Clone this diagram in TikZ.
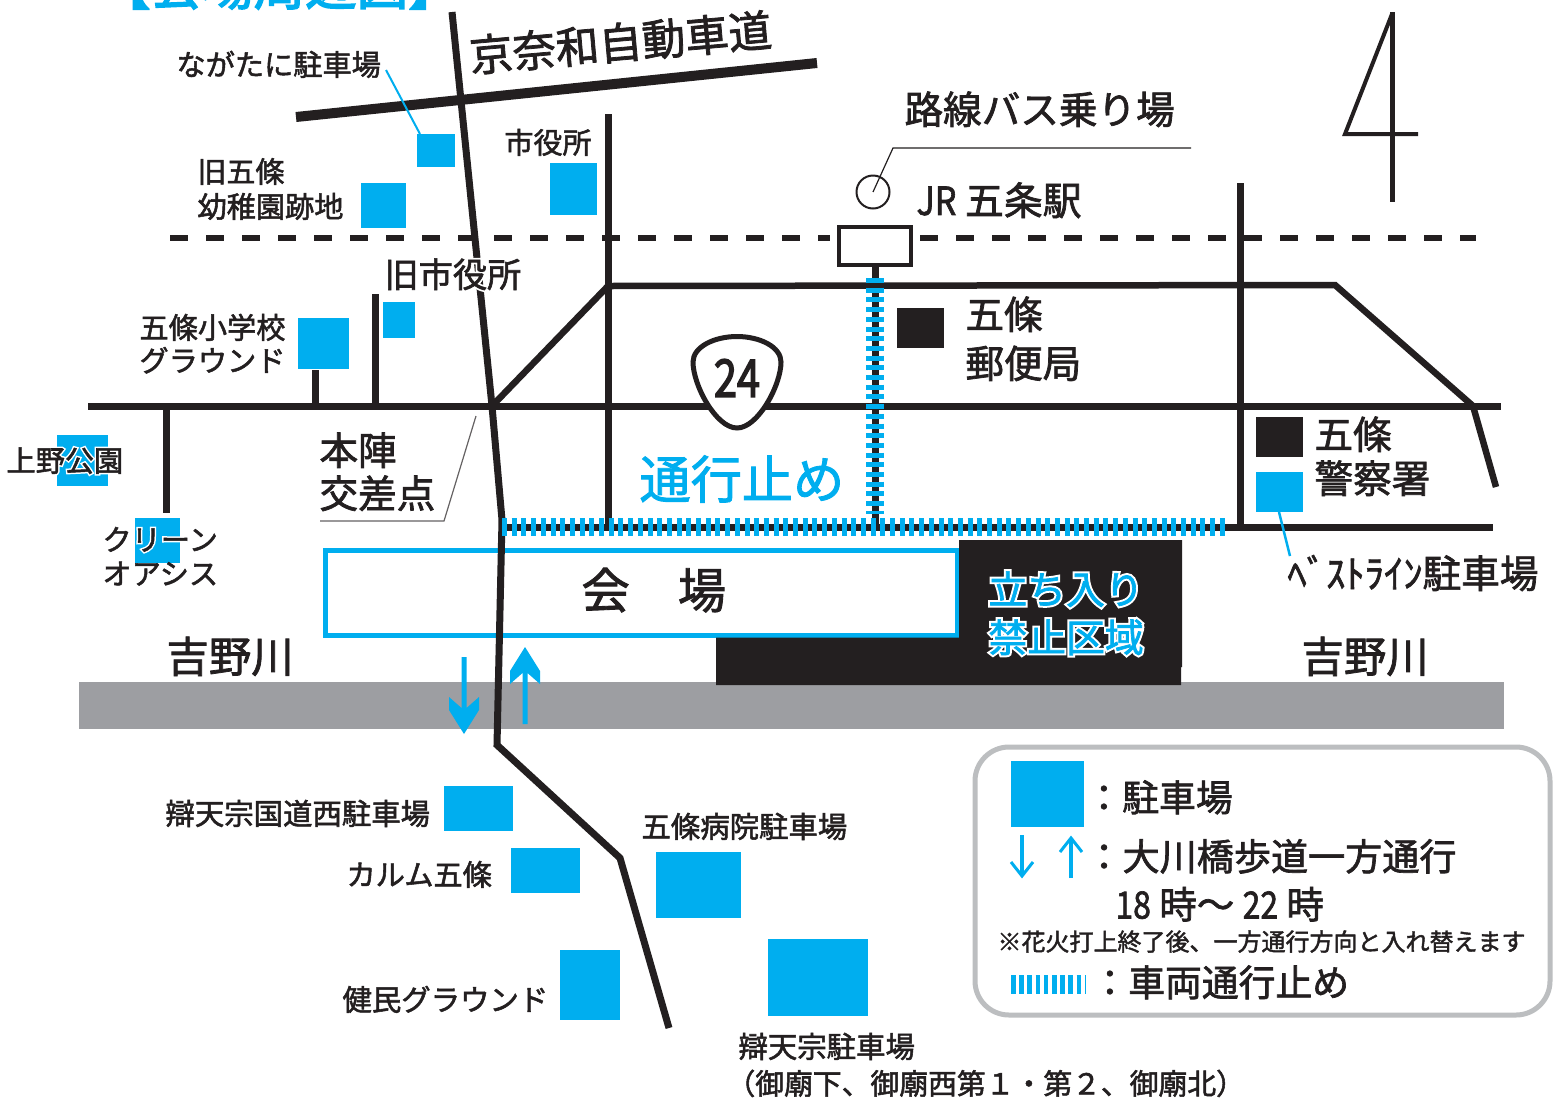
\documentclass[tikz,border=0pt]{standalone}
\usepackage{graphicx}
\usepackage{fontspec}
\newfontfamily\jp[FakeBold=1.8]{Noto Sans CJK JP}
\newfontfamily\jpb[FakeBold=3]{Noto Sans CJK JP}
\newfontfamily\jph[FakeBold=12]{Noto Sans CJK JP}
\definecolor{cblue}{HTML}{00AEEF}
\definecolor{cblack}{HTML}{231F20}
\definecolor{cgray}{HTML}{9D9EA2}
\definecolor{cbox}{HTML}{BCBEC0}
\tikzset{
  road/.style={draw=cblack,line width=7pt,line join=miter},
  parking/.style={fill=cblue},
  building/.style={fill=cblack},
  leader/.style={draw=cblue,line width=2pt},
  thinline/.style={draw=cblack,line width=1.2pt},
  stopline/.style={draw=cblue,line width=18pt,dash pattern=on 5pt off 4.7pt},
  txt/.style={inner sep=0pt,anchor=base west,text=cblack},
}
% name, x, y centre, size, text
\newcommand{\lbl}[5]{\node[txt] (#1) at ({#2-0.7},{#3+0.36*#4}) {\fontsize{#4}{#4}\selectfont\jp #5};}
% halo label: name, x, y centre, size, colour, text
\newcommand{\hlbl}[6]{\node[txt] (#1) at ({#2-0.7},{#3+0.36*#4}) {\fontsize{#4}{#4}\selectfont\rlap{\textcolor{white}{\jph #6}}\textcolor{#5}{\jp #6}};}
\newcommand{\cond}[2]{\scalebox{#1}[1]{#2}}
\begin{document}
\begin{tikzpicture}[x=1pt,y=-1pt]
\useasboundingbox (0,0) rectangle (1554,1101);
\fill[white] (0,0) rectangle (1554,1101);

% title, cut by the page edge
\node[txt,text=cblue] (title) at (99,5) {\fontsize{51.5}{51.5}\selectfont\jpb 【会場周辺図】};

% river
\fill[cgray] (79,682) rectangle (1503.5,729);
% venue
\draw[draw=cblue,line width=5pt,fill=white] (325,550) rectangle (957,635);
% no entry area
\fill[cblack] (959,540) -- (1182,540) -- (1182,667) -- (1181,667) -- (1181,685) -- (716,685) -- (716,637.5) -- (959,637.5) -- cycle;

% rail
\draw[cblack,line width=6.5pt,dash pattern=on 18pt off 18pt] (170,238) -- (830,238);
\draw[cblack,line width=6.5pt,dash pattern=on 18pt off 18pt] (920,238) -- (1476,238);

% roads
\draw[road] (88,406) -- (1501,406);
\draw[road] (608,114) -- (608,527);
\draw[road,line width=6.5pt] (492,406) -- (608,286) -- (1335,285) -- (1473,406) -- (1496,487);
\draw[road] (1240,183) -- (1240,527);
\draw[road] (502,527) -- (1493,527);
\draw[road] (875,266) -- (875,527);
\draw[road] (315,370) -- (315,406);
\draw[road] (375,294) -- (375,406);
\draw[road] (166,406) -- (166,513);
\draw[road,line width=10pt] (296,117) -- (817,63);
\draw[road] (452,12) -- (492,406) -- (502,520) -- (497,745) -- (620,858) -- (669,1028);

% road closures
\draw[stopline] (502,527) -- (1229,527);
\draw[stopline] (875,278) -- (875,514);

% station
\node[draw=cblack,line width=4pt,fill=white,minimum width=72pt,minimum height=38pt,inner sep=0pt] (station) at (874.5,245.5) {};
\node[circle,draw=cblack,line width=2pt,minimum size=33pt,inner sep=0pt] (busstop) at (873,192) {};
\coordinate (busbend) at (893,148);
\coordinate (busend) at (1191,148);
\draw[thinline] (busstop.center) -- (busbend) -- (busend);

% north mark
\draw[draw=cblack,line width=5pt] (1392,12) -- (1392,202);
\draw[draw=cblack,line width=4pt,line join=miter] (1392,14) -- (1345,134) -- (1418,134);

% route shield
\filldraw[draw=cblack,fill=white,line width=5pt] (737,336.5)
  .. controls (760,336.5) and (781,347) .. (781,362)
  .. controls (781,385) and (758,428) .. (737,428)
  .. controls (716,428) and (693,385) .. (693,362)
  .. controls (693,347) and (714,336.5) .. (737,336.5) -- cycle;
\node[inner sep=0pt,text=cblack] (r24) at (737,378) {\fontsize{52}{52}\selectfont\jpb\cond{.8}{24}};

% parking and buildings
\fill[parking] (417,134) rectangle (455,167);
\fill[parking] (361,183) rectangle (406,228);
\fill[parking] (550,163) rectangle (597,215);
\fill[parking] (383,302) rectangle (415,338);
\fill[parking] (298,318) rectangle (349,369);
\fill[parking] (57,435) rectangle (108,486);
\fill[parking] (135,518) rectangle (180,563);
\fill[parking] (1256,472) rectangle (1303,512);
\fill[parking] (444,786) rectangle (513,831);
\fill[parking] (511,848) rectangle (580,893);
\fill[parking] (656,852) rectangle (741,918);
\fill[parking] (560,950) rectangle (620,1020);
\fill[parking] (768,939) rectangle (868,1016);
\fill[building] (897,308) rectangle (944,348);
\fill[building] (1256,417) rectangle (1303,457);

% leaders
\coordinate (l1a) at (386,70); \coordinate (l1b) at (420,134);
\draw[leader] (l1a) -- (l1b);
\coordinate (l2a) at (1279,512); \coordinate (l2b) at (1290,556);
\draw[leader,line width=2.5pt] (l2a) -- (l2b);
\coordinate (l3a) at (320,521); \coordinate (l3b) at (444,521); \coordinate (l3c) at (476,416);
\draw[draw=cblack!70,line width=1.2pt] (l3a) -- (l3b) -- (l3c);

% bridge arrows
\fill[cblue] (461.5,657) -- (466.5,657) -- (466.5,708) -- (479,697) -- (479,710) -- (464,734) -- (449,710) -- (449,697) -- (461.5,708) -- cycle;
\fill[cblue] (522.5,724) -- (527.5,724) -- (527.5,673) -- (540,684) -- (540,671) -- (525,647) -- (510,671) -- (510,684) -- (522.5,673) -- cycle;

% labels
\node[inner sep=0pt,text=cblack,rotate=5] (xway) at (620.5,42.5) {\fontsize{43.3}{43}\selectfont\jp 京奈和自動車道};
\lbl{a1}{177}{65}{29.2}{ながたに駐車場}
\lbl{a2}{198}{172}{29}{旧五條}
\lbl{a3}{198}{207}{29.2}{幼稚園跡地}
\lbl{a4}{505}{143}{29}{市役所}
\lbl{a5}{905}{110}{38.6}{路線バス乗り場}
\lbl{a6}{917}{201}{38.8}{\cond{.88}{JR} 五条駅}
\hlbl{a7}{385}{275}{34.2}{cblack}{旧市役所}
\lbl{a8}{140}{328}{29.2}{五條小学校}
\lbl{a9}{140}{361}{29.2}{グラウンド}
\lbl{a10}{966}{315}{38.6}{五條}
\lbl{a11}{966}{364}{38.6}{郵便局}
\lbl{a12}{320}{451}{38.6}{本陣}
\lbl{a13}{320}{494}{38.6}{交差点}
\lbl{a14}{640}{480}{51.2}{\textcolor{cblue}{通行止め}}
\hlbl{a15}{7}{461}{29.2}{cblack}{上野公園}
\hlbl{a16}{103}{540}{29.2}{cblack}{クリーン}
\lbl{a17}{103}{574}{29.2}{オアシス}
\lbl{a18}{167}{657}{42.4}{吉野川}
\lbl{a19}{582}{591}{48.2}{会　場}
\hlbl{a20}{989}{590}{38.8}{cblue}{立ち入り}
\hlbl{a21}{989}{638}{38.8}{cblue}{禁止区域}
\lbl{a22}{1315}{435}{38.6}{五條}
\lbl{a23}{1315}{479}{38.6}{警察署}
\lbl{a24}{1288}{574}{38.6}{ﾍﾞｽﾄﾗｲﾝ駐車場}
\lbl{a25}{1302}{657}{42.4}{吉野川}
\lbl{a26}{166}{814}{29.4}{辯天宗国道西駐車場}
\lbl{a27}{347}{875}{29.2}{カルム五條}
\lbl{a28}{642}{827}{29.4}{五條病院駐車場}
\lbl{a29}{343}{1000}{29.4}{健民グラウンド}
\lbl{a30}{739}{1047}{29.4}{辯天宗駐車場}
\lbl{a31}{727}{1084}{28.8}{（御廟下、御廟西第１・第２、御廟北）}

% legend
\draw[draw=cbox,line width=5pt,fill=white,rounded corners=34pt] (975,747) rectangle (1550,1015);
\fill[parking] (1011,761) rectangle (1084,827);
\draw[draw=cblue,line width=3.2pt] (1022,835) -- (1022,876);
\draw[draw=cblue,line width=3pt] (1011,862) -- (1022,876) -- (1033,862);
\draw[draw=cblue,line width=3.2pt] (1071,878) -- (1071,838);
\draw[draw=cblue,line width=3pt] (1060,852) -- (1071,838) -- (1082,852);
\draw[draw=cblue,line width=19pt,dash pattern=on 4.5pt off 3.7pt] (1011,984.5) -- (1085,984.5);
\lbl{b1}{1086}{798}{36.8}{：駐車場}
\lbl{b2}{1086}{857}{37.1}{：大川橋歩道一方通行}
\lbl{b3}{1116}{905}{37.5}{\cond{.85}{18} 時～ \cond{.85}{22} 時}
\lbl{b4}{998}{942}{24}{※花火打上終了後、一方通行方向と入れ替えます}
\lbl{b5}{1092}{983}{36.8}{：車両通行止め}
\end{tikzpicture}
\end{document}
